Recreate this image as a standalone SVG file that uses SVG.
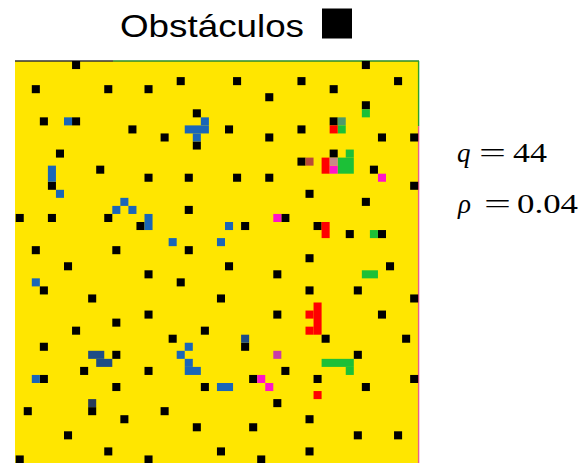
<svg xmlns="http://www.w3.org/2000/svg" width="587" height="463" viewBox="0 0 587 463">
<style>
.o{fill:#000}
.b{fill:#1a66b8}
.d{fill:#1e4d86}
.g{fill:#1cc037}
.r{fill:#f00}
.m{fill:#ff14c8}
.t{font-family:"Liberation Sans",Arial,sans-serif;font-size:32px;fill:#000}
.f{font-family:"Liberation Serif","Times New Roman",serif;font-size:27px;fill:#000}
</style>
<rect width="587" height="463" fill="#fff"/>
<g id="title">
<text class="t" x="120" y="37" textLength="184" lengthAdjust="spacingAndGlyphs">Obstáculos</text>
<rect x="322" y="8.5" width="30" height="30" fill="#000"/>
</g>
<g id="params">
<text class="f" x="457" y="161.5" font-style="italic">q</text>
<text class="f" x="479" y="161.5" textLength="27" lengthAdjust="spacingAndGlyphs">=</text>
<text class="f" x="513" y="161.5" textLength="34" lengthAdjust="spacingAndGlyphs">44</text>
<text class="f" x="458" y="212.5" font-style="italic">ρ</text>
<text class="f" x="484" y="212.5" textLength="27" lengthAdjust="spacingAndGlyphs">=</text>
<text class="f" x="517" y="212.5" textLength="61" lengthAdjust="spacingAndGlyphs">0.04</text>
</g>
<g id="grid">
<rect x="15" y="61" width="403.5" height="402" fill="#ffe600"/>
<line x1="15" y1="61" x2="113" y2="61" stroke="#333" stroke-width="1.4"/>
<line x1="113" y1="61" x2="419" y2="61" stroke="#2b8a2b" stroke-width="1.4"/>
<line x1="418.6" y1="61" x2="418.6" y2="126" stroke="#2ea02e" stroke-width="1.4"/>
<line x1="418.6" y1="126" x2="418.6" y2="463" stroke="#e8608a" stroke-width="1.4"/>
<g transform="translate(15.7,61) scale(8.05)">
<g id="obstacles" class="o">
<rect x="7" y="0" width="1" height="1"/><rect x="43" y="0" width="1" height="1"/>
<rect x="20" y="2" width="1" height="1"/><rect x="27" y="2" width="1" height="1"/><rect x="35" y="2" width="1" height="1"/><rect x="47" y="2" width="1" height="1"/>
<rect x="2" y="3" width="1" height="1"/><rect x="11" y="3" width="1" height="1"/><rect x="16" y="3" width="1" height="1"/><rect x="39" y="3" width="1" height="1"/>
<rect x="31" y="4" width="1" height="1"/>
<rect x="43" y="5" width="1" height="1"/>
<rect x="22" y="6" width="1" height="1"/>
<rect x="3" y="7" width="1" height="1"/><rect x="7" y="7" width="1" height="1"/><rect x="39" y="7" width="1" height="1"/>
<rect x="14" y="8" width="1" height="1"/><rect x="26" y="8" width="1" height="1"/><rect x="35" y="8" width="1" height="1"/>
<rect x="18" y="9" width="1" height="1"/><rect x="31" y="9" width="1" height="1"/><rect x="45" y="9" width="1" height="1"/><rect x="49" y="9" width="1" height="1"/>
<rect x="22" y="10" width="1" height="1"/>
<rect x="5" y="11" width="1" height="1"/><rect x="39" y="11" width="1" height="1"/>
<rect x="35" y="12" width="1" height="1"/>
<rect x="10" y="13" width="1" height="1"/><rect x="44" y="13" width="1" height="1"/>
<rect x="16" y="14" width="1" height="1"/><rect x="21" y="14" width="1" height="1"/><rect x="27" y="14" width="1" height="1"/><rect x="31" y="14" width="1" height="1"/>
<rect x="4" y="15" width="1" height="1"/><rect x="49" y="15" width="1" height="1"/>
<rect x="36" y="16" width="1" height="1"/>
<rect x="43" y="17" width="1" height="1"/>
<rect x="21" y="18" width="1" height="1"/>
<rect x="0" y="19" width="1" height="1"/><rect x="4" y="19" width="1" height="1"/><rect x="11" y="19" width="1" height="1"/><rect x="33" y="19" width="1" height="1"/>
<rect x="15" y="20" width="1" height="1"/><rect x="28" y="20" width="1" height="1"/><rect x="37" y="20" width="1" height="1"/>
<rect x="41" y="21" width="1" height="1"/><rect x="45" y="21" width="1" height="1"/>
<rect x="2" y="23" width="1" height="1"/><rect x="12" y="23" width="1" height="1"/><rect x="21" y="23" width="1" height="1"/>
<rect x="36" y="24" width="1" height="1"/>
<rect x="6" y="25" width="1" height="1"/><rect x="26" y="25" width="1" height="1"/><rect x="46" y="25" width="1" height="1"/>
<rect x="16" y="26" width="1" height="1"/><rect x="32" y="26" width="1" height="1"/>
<rect x="20" y="27" width="1" height="1"/>
<rect x="3" y="28" width="1" height="1"/><rect x="36" y="28" width="1" height="1"/><rect x="42" y="28" width="1" height="1"/>
<rect x="9" y="29" width="1" height="1"/><rect x="25" y="29" width="1" height="1"/><rect x="49" y="29" width="1" height="1"/>
<rect x="16" y="31" width="1" height="1"/><rect x="32" y="31" width="1" height="1"/><rect x="45" y="31" width="1" height="1"/>
<rect x="12" y="32" width="1" height="1"/>
<rect x="7" y="33" width="1" height="1"/><rect x="23" y="33" width="1" height="1"/>
<rect x="19" y="34" width="1" height="1"/><rect x="38" y="34" width="1" height="1"/><rect x="48" y="34" width="1" height="1"/>
<rect x="3" y="35" width="1" height="1"/><rect x="28" y="35" width="1" height="1"/>
<rect x="12" y="36" width="1" height="1"/><rect x="42" y="36" width="1" height="1"/>
<rect x="8" y="38" width="1" height="1"/><rect x="16" y="38" width="1" height="1"/><rect x="33" y="38" width="1" height="1"/>
<rect x="3" y="39" width="1" height="1"/><rect x="29" y="39" width="1" height="1"/><rect x="37" y="39" width="1" height="1"/><rect x="49" y="39" width="1" height="1"/>
<rect x="12" y="40" width="1" height="1"/><rect x="23" y="40" width="1" height="1"/><rect x="43" y="40" width="1" height="1"/>
<rect x="32" y="42" width="1" height="1"/>
<rect x="1" y="43" width="1" height="1"/><rect x="9" y="43" width="1" height="1"/><rect x="18" y="43" width="1" height="1"/>
<rect x="13" y="44" width="1" height="1"/><rect x="36" y="44" width="1" height="1"/>
<rect x="22" y="45" width="1" height="1"/><rect x="29" y="45" width="1" height="1"/>
<rect x="6" y="46" width="1" height="1"/><rect x="42" y="46" width="1" height="1"/><rect x="47" y="46" width="1" height="1"/>
<rect x="11" y="48" width="1" height="1"/><rect x="25" y="48" width="1" height="1"/><rect x="36" y="48" width="1" height="1"/>
<rect x="0" y="49" width="1" height="1"/><rect x="16" y="49" width="1" height="1"/><rect x="30" y="49" width="1" height="1"/>
</g>
<g id="blue" class="b">
<rect x="6" y="7" width="1" height="1"/>
<rect x="4" y="13" width="1" height="2"/>
<rect x="5" y="16" width="1" height="1"/>
<rect x="23" y="7" width="1" height="1"/><rect x="21" y="8" width="3" height="1"/><rect x="22" y="9" width="1" height="1"/>
<rect x="13" y="17" width="1" height="1"/><rect x="12" y="18" width="1" height="1"/><rect x="14" y="18" width="1" height="1"/>
<rect x="16" y="19" width="1" height="2"/>
<rect x="26" y="20" width="1" height="1"/>
<rect x="19" y="22" width="1" height="1"/><rect x="25" y="22" width="1" height="1"/>
<rect x="2" y="27" width="1" height="1"/>
<rect x="2" y="39" width="1" height="1"/>
<rect x="21" y="35" width="1" height="1"/><rect x="20" y="36" width="1" height="1"/><rect x="21" y="37" width="1" height="1"/><rect x="21" y="38" width="2" height="1"/>
<rect x="25" y="40" width="2" height="1"/>
</g>
<g id="darkblue" class="d">
<rect x="9" y="36" width="2" height="1"/><rect x="10" y="37" width="2" height="1"/>
<rect x="28" y="34" width="1" height="1"/>
<rect x="9" y="42" width="1" height="1" fill="#2a3c58"/>
</g>
<g id="green" class="g">
<rect x="43" y="6" width="1" height="1"/>
<rect x="40" y="7" width="1" height="1" fill="#4e9a6a"/>
<rect x="40" y="8" width="1" height="1"/>
<rect x="41" y="11" width="1" height="1"/><rect x="40" y="12" width="2" height="2"/>
<rect x="44" y="21" width="1" height="1"/>
<rect x="43" y="26" width="2" height="1"/>
<rect x="38" y="37" width="4" height="1"/><rect x="41" y="38" width="1" height="1"/>
</g>
<g id="red" class="r">
<rect x="39" y="8" width="1" height="1"/>
<rect x="38" y="12" width="1" height="2"/>
<rect x="36" y="12" width="1" height="1" fill="#b84a3a"/>
<rect x="38" y="20" width="1" height="2"/>
<rect x="37" y="30" width="1" height="4"/><rect x="36" y="31" width="1" height="1"/><rect x="36" y="33" width="1" height="1"/>
<rect x="37" y="41" width="1" height="1"/>
</g>
<g id="magenta" class="m">
<rect x="39" y="13" width="1" height="1"/>
<rect x="39" y="12" width="1" height="1" fill="#c88a8a"/>
<rect x="45" y="14" width="1" height="1"/>
<rect x="32" y="19" width="1" height="1"/>
<rect x="32" y="36" width="1" height="1" fill="#c83ca8"/>
<rect x="30" y="39" width="1" height="1"/>
<rect x="31" y="40" width="1" height="1"/>
</g>
</g>
</g>
</svg>
